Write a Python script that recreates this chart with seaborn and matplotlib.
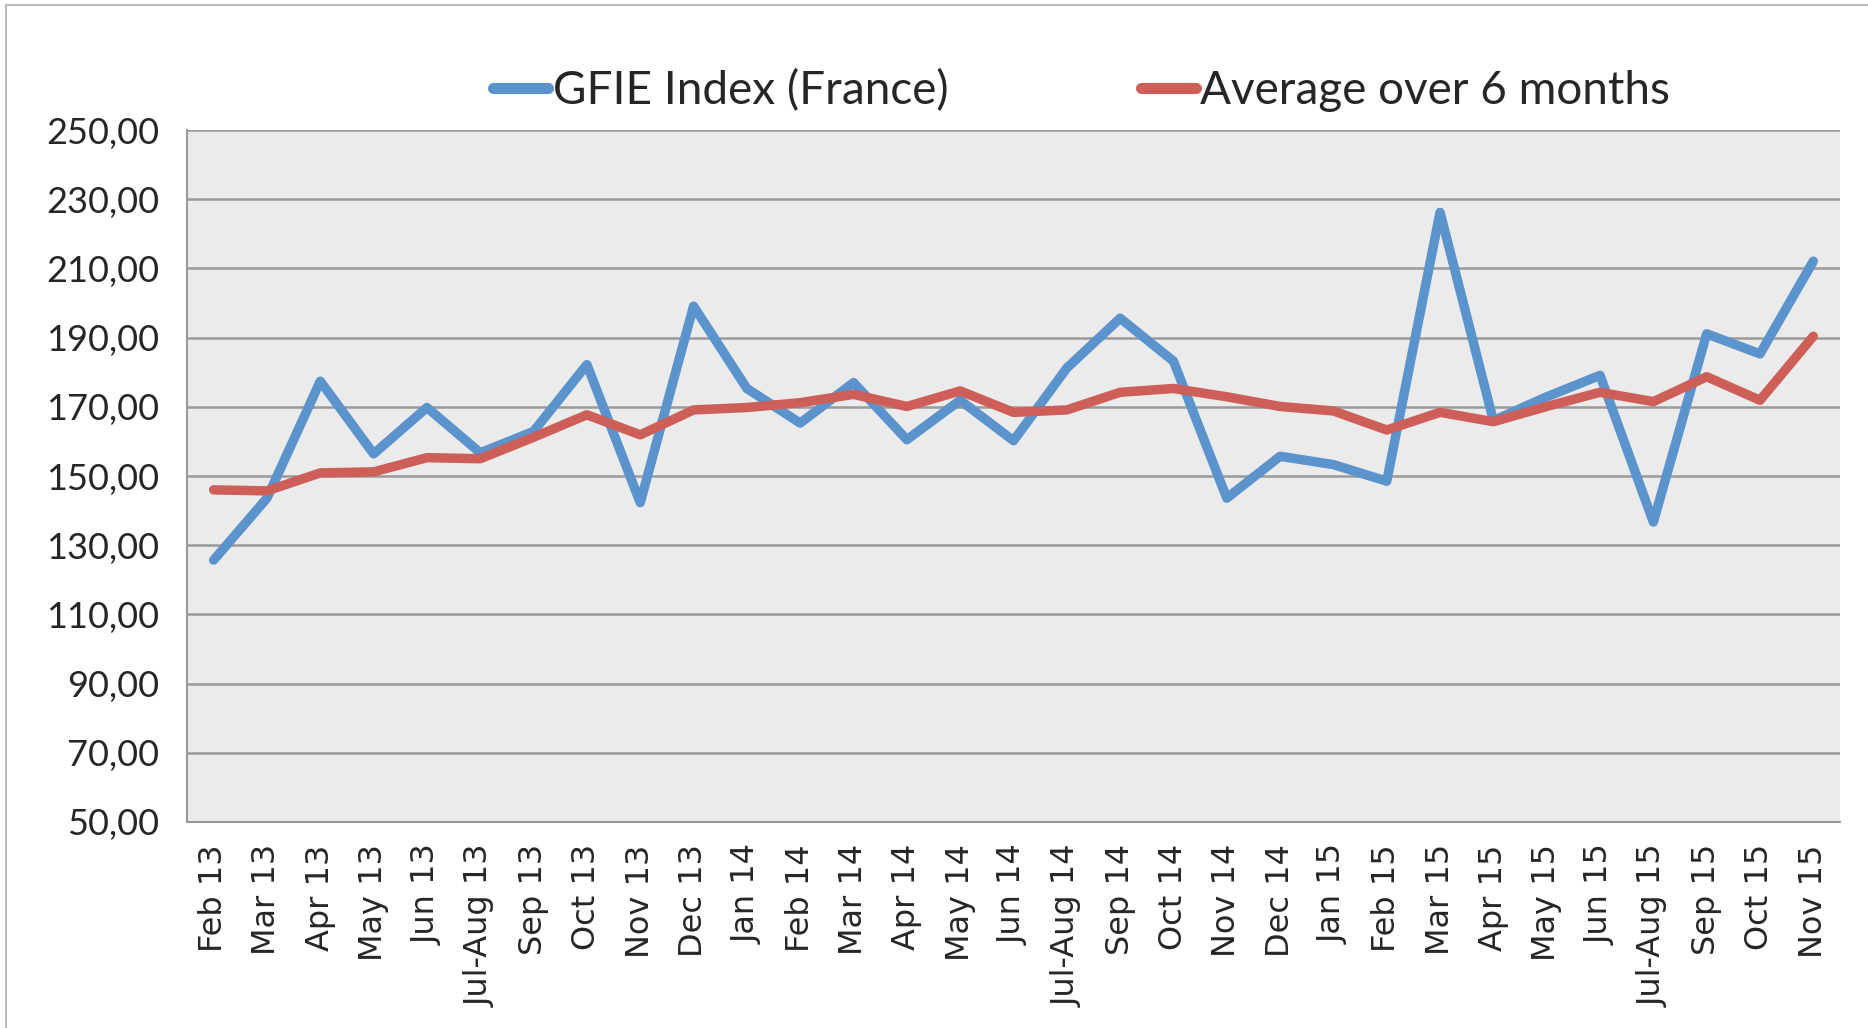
import matplotlib
matplotlib.use("Agg")
import matplotlib.pyplot as plt
import matplotlib.ticker as mticker
from matplotlib.patches import Rectangle
import seaborn as sns
import pandas as pd

months = ["Feb 13", "Mar 13", "Apr 13", "May 13", "Jun 13", "Jul-Aug 13", "Sep 13",
          "Oct 13", "Nov 13", "Dec 13", "Jan 14", "Feb 14", "Mar 14", "Apr 14",
          "May 14", "Jun 14", "Jul-Aug 14", "Sep 14", "Oct 14", "Nov 14", "Dec 14",
          "Jan 15", "Feb 15", "Mar 15", "Apr 15", "May 15", "Jun 15", "Jul-Aug 15",
          "Sep 15", "Oct 15", "Nov 15"]

gfie_index = [125.7, 143.6, 177.4, 156.4, 169.8, 156.7, 162.9, 182.2, 142.3, 199.1,
              175.3, 165.3, 177.0, 160.5, 171.9, 160.2, 181.2, 195.6, 183.2, 143.6,
              155.7, 153.3, 148.5, 226.2, 166.0, 172.9, 179.1, 136.7, 191.1, 185.3,
              212.1]

avg_6m = [146.0, 145.7, 150.9, 151.2, 155.3, 155.0, 161.2, 167.7, 161.9, 169.1,
          169.8, 171.2, 173.6, 170.1, 174.6, 168.4, 169.1, 174.2, 175.3, 172.9,
          170.1, 168.8, 163.3, 168.4, 165.7, 170.1, 174.2, 171.5, 178.7, 171.9,
          190.4]

series_names = ["GFIE Index (France)", "Average over 6 months"]
colors = ["#5B93CC", "#CD5F58"]

# long format table for seaborn
df = pd.DataFrame({
    "pos": list(range(len(months))) * 2,
    "value": gfie_index + avg_6m,
    "series": [series_names[0]] * len(months) + [series_names[1]] * len(months),
})

sns.set_style("white")
humanist = ["Lato", "DejaVu Sans"]

fig = plt.figure(figsize=(18.68, 10.28), dpi=100)
ax = fig.add_axes([0.1001, 0.2004, 0.8849, 0.6731])
ax.set_facecolor("#EBEBEB")

sns.lineplot(data=df, x="pos", y="value", hue="series", palette=colors,
             linewidth=6.8, ax=ax, legend=True)

ax.set_xlim(-0.5, len(months) - 0.5)
ax.set_ylim(50, 250)
ax.set_yticks(range(50, 251, 20))
ax.yaxis.set_major_formatter(mticker.FuncFormatter(lambda v, p: f"{v:.2f}".replace(".", ",")))
ax.set_xticks(range(len(months)))
ax.set_xticklabels(months, rotation=90, fontsize=23, family="DejaVu Sans")
ax.set_xticks([i - 0.5 for i in range(len(months) + 1)], minor=True)
ax.tick_params(axis="x", which="major", length=0, pad=16)
ax.tick_params(axis="x", which="minor", length=12, width=1.5, color="#9A9A9A", direction="out")
ax.tick_params(axis="y", length=12, width=1.5, color="#9A9A9A", direction="out", pad=8)
for lab in ax.get_yticklabels():
    lab.set_family(humanist)
    lab.set_fontsize(26)

ax.grid(axis="y", color="#9A9A9A", linewidth=1.8)
ax.set_axisbelow(True)
for side in ["top", "right"]:
    ax.spines[side].set_visible(False)
for side in ["left", "bottom"]:
    ax.spines[side].set_color("#9A9A9A")
    ax.spines[side].set_linewidth(1.5)
ax.set_xlabel("")
ax.set_ylabel("")

handles, labels = ax.get_legend_handles_labels()
ax.legend(handles, labels, loc="center", bbox_to_anchor=(0.579, 0.912),
          bbox_transform=fig.transFigure, ncol=2, frameon=False,
          prop={"family": humanist, "size": 33}, handlelength=1.2,
          handletextpad=0.1, columnspacing=4.2)
for line in ax.get_legend().get_lines():
    line.set_linewidth(8)

# light outer frame
fig.patches.append(Rectangle((0.003, -0.1), 1.2, 1.095, transform=fig.transFigure,
                             fill=False, edgecolor="#BBBBBB", linewidth=1.5))

fig.savefig("out.png", dpi=100)
